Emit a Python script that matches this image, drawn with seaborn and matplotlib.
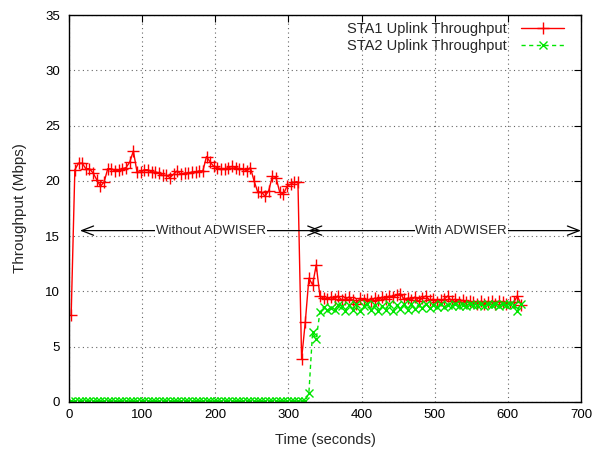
import numpy as np
import pandas as pd
import matplotlib
matplotlib.use("Agg")
import matplotlib.pyplot as plt
import seaborn as sns

# ---------------- data ----------------
time_s = list(range(3, 619, 5))  # sampling instants (seconds)

sta1_mbps = [
    7.9, 21.0, 21.6, 21.6, 21.1, 21.1, 20.7, 20.1, 19.5, 19.9,
    21.1, 21.1, 20.9, 21.0, 21.1, 21.2, 21.7, 22.7, 20.8, 20.8,
    21.0, 21.0, 20.8, 20.8, 20.7, 20.5, 20.5, 20.3, 20.6, 20.9,
    20.6, 20.7, 20.7, 20.8, 20.8, 20.9, 20.9, 22.2, 21.7, 21.3,
    21.2, 21.1, 21.1, 21.2, 21.3, 21.2, 21.1, 21.1, 20.9, 21.2,
    20.0, 19.0, 19.0, 18.6, 19.1, 20.4, 20.3, 19.0, 18.8, 19.5,
    19.7, 19.9, 19.9,
    3.9, 7.2, 11.2, 10.6, 12.4,
    9.6, 9.4, 9.3, 9.5, 9.3, 9.6, 9.2, 9.3, 9.5, 9.2,
    8.9, 9.4, 9.2, 9.3, 9.1, 9.4, 9.2, 9.5, 9.3, 9.6,
    9.5, 9.7, 9.8, 9.3, 9.4, 9.2, 9.5, 9.1, 9.4, 9.6,
    9.2, 9.3, 9.0, 9.2, 9.3, 9.6, 9.1, 9.3, 9.0, 9.2,
    9.0, 9.1, 9.0, 8.9, 9.1, 8.9, 9.0, 9.1, 8.9, 9.1,
    9.0, 8.9, 9.0, 9.0, 9.6, 8.8,
]

sta2_mbps = [
    0.05, 0.05, 0.05, 0.05, 0.05, 0.05, 0.05, 0.05, 0.05, 0.05,
    0.05, 0.05, 0.05, 0.05, 0.05, 0.05, 0.05, 0.05, 0.05, 0.05,
    0.05, 0.05, 0.05, 0.05, 0.05, 0.05, 0.05, 0.05, 0.05, 0.05,
    0.05, 0.05, 0.05, 0.05, 0.05, 0.05, 0.05, 0.05, 0.05, 0.05,
    0.05, 0.05, 0.05, 0.05, 0.05, 0.05, 0.05, 0.05, 0.05, 0.05,
    0.05, 0.05, 0.05, 0.05, 0.05, 0.05, 0.05, 0.05, 0.05, 0.05,
    0.05, 0.05, 0.05,
    0.05, 0.05, 0.85, 6.3, 5.7,
    8.1, 8.6, 8.3, 8.5, 8.3, 8.8, 8.7, 8.2, 8.8, 8.3,
    8.9, 8.2, 8.7, 8.9, 8.3, 8.8, 8.2, 8.7, 8.3, 8.9,
    8.2, 8.8, 8.4, 8.9, 8.3, 8.9, 8.4, 8.8, 8.5, 8.9,
    8.5, 8.8, 8.6, 8.9, 8.6, 8.8, 8.7, 8.9, 8.7, 8.8,
    8.7, 8.9, 8.8, 8.8, 8.9, 8.7, 8.9, 8.8, 8.9, 8.7,
    8.9, 8.8, 8.9, 8.8, 8.2, 8.9,
]

series_names = ["STA1 Uplink Throughput", "STA2 Uplink Throughput"]
x_ticks = [0, 100, 200, 300, 400, 500, 600, 700]
y_ticks = [0, 5, 10, 15, 20, 25, 30, 35]

phase_labels = ["Without ADWISER", "With ADWISER"]
phase_spans = [(15, 345), (327, 700)]
phase_label_x = [194, 536]
phase_y = 15.5

# ---------------- plot ----------------
sns.set_style("white")
plt.rcParams["font.family"] = ["Liberation Sans", "DejaVu Sans"]
plt.rcParams["font.size"] = 9.5

fig = plt.figure(figsize=(5.95, 4.5), dpi=100)
ax = fig.add_axes([69 / 595, 1 - 402 / 450, 512 / 595, 387 / 450])

df1 = pd.DataFrame({"t": time_s, "v": sta1_mbps})
df2 = pd.DataFrame({"t": time_s, "v": sta2_mbps})

red = "#ff0000"
green = "#00e600"
sns.lineplot(data=df1, x="t", y="v", ax=ax, color=red, lw=1.0,
             marker="+", markersize=8, markeredgewidth=1.0,
             markeredgecolor=red, markerfacecolor=red,
             label=series_names[0])
sns.lineplot(data=df2, x="t", y="v", ax=ax, color=green, lw=1.0,
             linestyle=(0, (3, 2.5)), marker="x", markersize=6,
             markeredgewidth=1.0, markeredgecolor=green,
             markerfacecolor=green, label=series_names[1])

ax.set_xlim(0, 700)
ax.set_ylim(0, 35)
ax.set_xticks(x_ticks)
ax.set_yticks(y_ticks)
ax.set_xlabel("Time (seconds)", fontsize=10.5, labelpad=9)
ax.set_ylabel("Throughput (Mbps)", fontsize=11, labelpad=13)

ax.grid(True, color="#666666", linestyle=(0, (1, 3)), linewidth=0.8)
ax.tick_params(direction="in", length=5, width=0.8, top=True, right=True,
               labelsize=9.5, colors="black")
ax.tick_params(axis="y", pad=6.5)
ax.tick_params(axis="x", pad=5)
for s in ax.spines.values():
    s.set_color("black")
    s.set_linewidth(1.0)

# phase arrows
for (x0, x1) in phase_spans:
    ax.annotate("", xy=(x1, phase_y), xytext=(x0, phase_y),
                arrowprops=dict(arrowstyle="<->,head_length=0.9,head_width=0.35",
                                color="black", lw=0.9, shrinkA=0, shrinkB=0))
for lbl, xc in zip(phase_labels, phase_label_x):
    ax.text(xc, phase_y, lbl, ha="center", va="center", fontsize=9.5,
            bbox=dict(facecolor="white", edgecolor="none", pad=0.5))

leg = ax.legend(loc="upper right", bbox_to_anchor=(0.972, 0.99),
                markerfirst=False, frameon=False, handlelength=2.9,
                handletextpad=1.0, borderaxespad=0, borderpad=0.2,
                labelspacing=0.2, numpoints=1, fontsize=10.5)

fig.savefig("out.png", dpi=100)
